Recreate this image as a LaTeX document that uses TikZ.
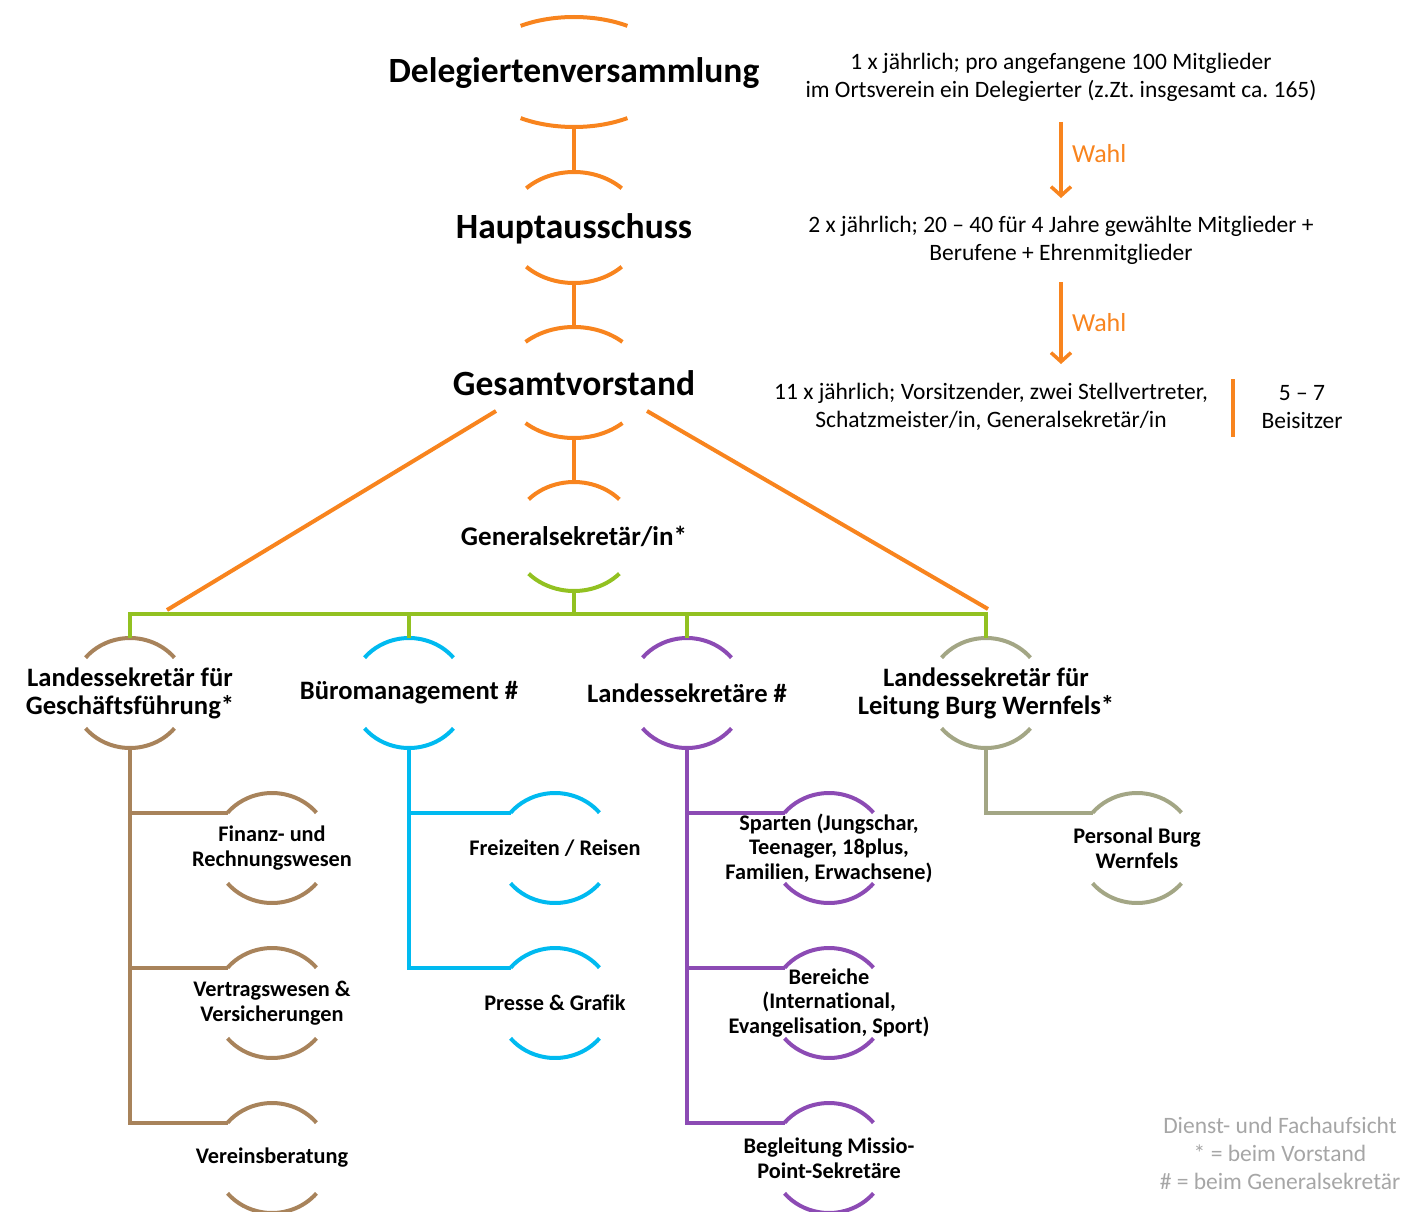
\documentclass[tikz,border=0pt]{standalone}
\usepackage{fontspec}
\setmainfont{Carlito}[Ligatures=NoCommon]
\usetikzlibrary{calc,arrows.meta}
\definecolor{cOr}{RGB}{248,132,30}
\definecolor{cGr}{RGB}{146,193,33}
\definecolor{cBr}{RGB}{168,131,91}
\definecolor{cCy}{RGB}{0,186,240}
\definecolor{cPu}{RGB}{140,75,180}
\definecolor{cSg}{RGB}{163,166,133}
\definecolor{cLg}{RGB}{166,166,166}
\frenchspacing
% #1 node, #2 colour, #3 x radius, #4 y radius, #5 start angle
\newcommand\brarcs[5]{%
  \draw[#2] ($(#1.center)+(#5:#3pt and #4pt)$) arc[start angle=#5, end angle={180-#5}, x radius=#3pt, y radius=#4pt];
  \draw[#2] ($(#1.center)+(-#5:#3pt and #4pt)$) arc[start angle=-#5, end angle={-180+#5}, x radius=#3pt, y radius=#4pt];
  \coordinate (#1-t) at ($(#1.center)+(0,#4)$);
  \coordinate (#1-b) at ($(#1.center)+(0,-#4)$);
  \coordinate (#1-l) at ($(#1.center)+({180-#5}:#3pt and #4pt)$);
}
\begin{document}
\begin{tikzpicture}[x=1pt,y=1pt,line width=4pt,
  big/.style={font=\fontsize{35.5}{40}\selectfont\bfseries,align=center,inner sep=0pt},
  gen/.style={font=\fontsize{27}{30}\selectfont\bfseries,align=center,inner sep=0pt},
  mid/.style={font=\fontsize{26.6}{28}\selectfont\bfseries,align=center,inner sep=0pt},
  sml/.style={font=\fontsize{22.3}{24.5}\selectfont\bfseries,align=center,inner sep=0pt},
  note/.style={font=\fontsize{23.5}{28}\selectfont,align=center,inner sep=0pt},
  wahl/.style={font=\fontsize{26}{28}\selectfont,text=cOr,inner sep=0pt},
  legend/.style={font=\fontsize{23.5}{28}\selectfont,align=center,text=cLg,inner sep=0pt},
  warrow/.style={cOr,line width=3.5pt,-{Straight Barb[length=9pt,width=20pt,line width=3.5pt]}}]
\useasboundingbox (0,0) rectangle (1402,-1212);

% top chain
\node[big] (dv) at (574,-73) {Delegiertenversammlung};
\node[big] (ha) at (574,-228.5) {Hauptausschuss};
\node[big] (gv) at (574,-383) {Gesamtvorstand};
\node[gen] (gs) at (574,-536.5) {Generalsekretär/in*};

% level 1
\node[mid] (l1) at (130,-693) {Landessekretär für\\Geschäftsführung*};
\node[mid] (l2) at (409,-693) {Büromanagement \#};
\node[mid] (l3) at (687,-693) {Landessekretäre \#};
\node[mid] (l4) at (986,-693) {Landessekretär für\\Leitung Burg Wernfels*};

% children
\node[sml] (c11) at (272,-848) {Finanz- und\\Rechnungswesen};
\node[sml] (c12) at (272,-1003) {Vertragswesen \&\\Versicherungen};
\node[sml] (c13) at (272,-1158) {Vereinsberatung};
\node[sml] (c21) at (555,-848) {Freizeiten / Reisen};
\node[sml] (c22) at (555,-1003) {Presse \& Grafik};
\node[sml] (c31) at (829,-848) {Sparten (Jungschar,\\Teenager, 18plus,\\Familien, Erwachsene)};
\node[sml] (c32) at (829,-1003) {Bereiche\\(International,\\Evangelisation, Sport)};
\node[sml] (c33) at (829,-1158) {Begleitung Missio-\\Point-Sekretäre};
\node[sml] (c41) at (1137,-848) {Personal Burg\\Wernfels};

% bracket arcs
\coordinate (dvc) at (574,-72);
\coordinate (hac) at (574,-227.5);
\coordinate (gvc) at (574,-382.5);
\draw[cOr] ($(dvc)+(57:98pt and 55pt)$) arc[start angle=57, end angle=123, x radius=98pt, y radius=55pt];
\draw[cOr] ($(dvc)+(-57:98pt and 55pt)$) arc[start angle=-57, end angle=-123, x radius=98pt, y radius=55pt];
\draw[cOr] ($(hac)+(45:67.5pt and 55.5pt)$) arc[start angle=45, end angle=135, x radius=67.5pt, y radius=55.5pt];
\draw[cOr] ($(hac)+(-45:67.5pt and 55.5pt)$) arc[start angle=-45, end angle=-135, x radius=67.5pt, y radius=55.5pt];
\draw[cOr] ($(gvc)+(47:71pt and 55.5pt)$) arc[start angle=47, end angle=133, x radius=71pt, y radius=55.5pt];
\draw[cOr] ($(gvc)+(-47:71pt and 55.5pt)$) arc[start angle=-47, end angle=-133, x radius=71pt, y radius=55.5pt];
\coordinate (dv-b) at ($(dvc)+(0,-55)$);
\coordinate (ha-t) at ($(hac)+(0,55.5)$);
\coordinate (ha-b) at ($(hac)+(0,-55.5)$);
\coordinate (gv-t) at ($(gvc)+(0,55.5)$);
\coordinate (gv-b) at ($(gvc)+(0,-55.5)$);
\draw[cOr] ($(gs.center)+(43:62pt and 54.5pt)$) arc[start angle=43, end angle=137, x radius=62pt, y radius=54.5pt];
\draw[cGr] ($(gs.center)+(-43:62pt and 54.5pt)$) arc[start angle=-43, end angle=-137, x radius=62pt, y radius=54.5pt];
\coordinate (gs-t) at ($(gs.center)+(0,54.5)$);
\coordinate (gs-b) at ($(gs.center)+(0,-54.5)$);
\brarcs{l1}{cBr}{58}{55}{40}
\brarcs{l2}{cCy}{58}{55}{40}
\brarcs{l3}{cPu}{58}{55}{40}
\brarcs{l4}{cSg}{58}{55}{40}
\brarcs{c11}{cBr}{58}{55}{40}
\brarcs{c12}{cBr}{58}{55}{40}
\brarcs{c13}{cBr}{58}{55}{40}
\brarcs{c21}{cCy}{58}{55}{40}
\brarcs{c22}{cCy}{58}{55}{40}
\brarcs{c31}{cPu}{58}{55}{40}
\brarcs{c32}{cPu}{58}{55}{40}
\brarcs{c33}{cPu}{58}{55}{40}
\brarcs{c41}{cSg}{58}{55}{40}

% top connectors
\draw[cOr] (dv-b) -- (ha-t);
\draw[cOr] (ha-b) -- (gv-t);
\draw[cOr] (gv-b) -- (gs-t);

% orange diagonals
\coordinate (dla) at (496,-411);
\coordinate (dlb) at (167,-610);
\coordinate (dra) at (647,-411);
\coordinate (drb) at (988,-609);
\draw[cOr] (dla) -- (dlb);
\draw[cOr] (dra) -- (drb);

% green bar
\coordinate (bar) at (574,-614);
\draw[cGr] (gs-b) -- (bar);
\draw[cGr,line join=miter] (l1-t) |- (bar) -| (l4-t);
\draw[cGr] (l2-t) -- (l2-t |- bar);
\draw[cGr] (l3-t) -- (l3-t |- bar);

% child branches
\draw[cBr,line join=miter] (l1-b) |- (c11-l);
\draw[cBr,line join=miter] (l1-b) |- (c12-l);
\draw[cBr,line join=miter] (l1-b) |- (c13-l);
\draw[cCy,line join=miter] (l2-b) |- (c21-l);
\draw[cCy,line join=miter] (l2-b) |- (c22-l);
\draw[cPu,line join=miter] (l3-b) |- (c31-l);
\draw[cPu,line join=miter] (l3-b) |- (c32-l);
\draw[cPu,line join=miter] (l3-b) |- (c33-l);
\draw[cSg,line join=miter] (l4-b) |- (c41-l);

% right notes
\node[note] (n1) at (1061,-77) {1 x jährlich; pro angefangene 100 Mitglieder\\im Ortsverein ein Delegierter (z.Zt. insgesamt ca. 165)};
\node[note] (n2) at (1061,-240) {2 x jährlich; 20 – 40 für 4 Jahre gewählte Mitglieder +\\Berufene + Ehrenmitglieder};
\node[note] (n3) at (991,-407) {11 x jährlich; Vorsitzender, zwei Stellvertreter,\\Schatzmeister/in, Generalsekretär/in};
\node[note] (n4) at (1302,-407) {5 – 7\\Beisitzer};
\coordinate (w1a) at (1061,-122);
\coordinate (w1b) at (1061,-198);
\coordinate (w2a) at (1061,-282);
\coordinate (w2b) at (1061,-364);
\draw[warrow] (w1a) -- (w1b);
\draw[warrow] (w2a) -- (w2b);
\node[wahl,anchor=west] (wa1) at (1070,-154) {Wahl};
\node[wahl,anchor=west] (wa2) at (1070,-323) {Wahl};
\coordinate (sba) at (1233,-379);
\coordinate (sbb) at (1233,-437);
\draw[cOr] (sba) -- (sbb);

% legend
\node[legend] (lg) at (1280,-1153) {Dienst- und Fachaufsicht\\* = beim Vorstand\\\# = beim Generalsekretär};
\end{tikzpicture}
\end{document}
